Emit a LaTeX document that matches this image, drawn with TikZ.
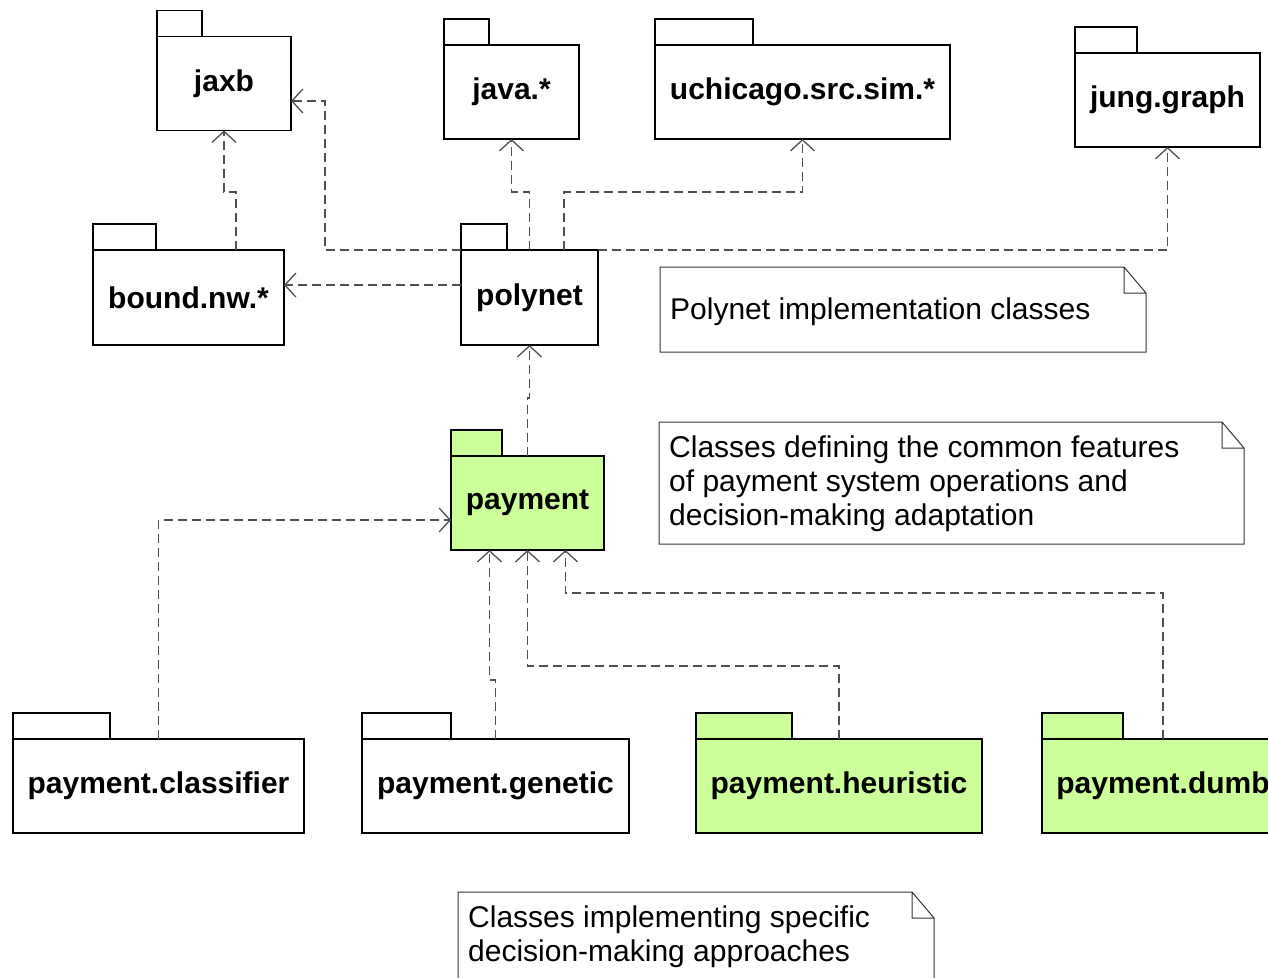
\documentclass[tikz,border=0pt]{standalone}
\usepackage{fontspec}
\setmainfont{Liberation Sans}
\usepackage{xcolor}
\usepackage{tikz}
\usetikzlibrary{arrows.meta,positioning,calc}
\definecolor{pkggreen}{RGB}{204,255,153}
\definecolor{depgray}{RGB}{80,80,80}

\begin{document}
\begin{tikzpicture}[x=1pt,y=-1pt]
      \tikzstyle{pkg}=[draw=black, line width=1.8pt, fill=white, inner sep=0pt, outer sep=0pt, minimum height=94pt, font=\fontsize{30}{34}\selectfont\bfseries]
      \tikzstyle{pkg_green}=[pkg, fill=pkggreen]
      \tikzstyle{tab}=[draw=black, line width=1.8pt, fill=white, inner sep=0pt, outer sep=0pt, minimum height=26pt, anchor=south west]
      \tikzstyle{tab_green}=[tab, fill=pkggreen]
      \tikzstyle{dep}=[draw=depgray, line width=1.3pt, dash pattern=on 9pt off 5pt, -{Straight Barb[length=11pt,width=24pt,line width=1.3pt]}]
      \tikzstyle{note}=[draw=none, inner sep=0pt, outer sep=0pt]
      \tikzstyle{note_text}=[inner sep=0pt, align=left, anchor=north west, font=\fontsize{30}{34}\selectfont]
      \tikzstyle{note_line}=[draw=black!80, line width=1pt]

      \useasboundingbox (0,0) rectangle (1268,977);

      \node [pkg, minimum width=134pt] (jaxb) at (224,83.5) {jaxb};
      \node [tab, minimum width=45pt] (jaxb-tab) at (jaxb.north west) {};

      \node [pkg, minimum width=135pt] (java) at (511.5,92) {java.*};
      \node [tab, minimum width=45pt] (java-tab) at (java.north west) {};

      \node [pkg, minimum width=295pt] (uchicago) at (802.5,92) {uchicago.src.sim.*};
      \node [tab, minimum width=98pt] (uchicago-tab) at (uchicago.north west) {};

      \node [pkg, minimum width=185pt] (jung) at (1167.5,100) {jung.graph};
      \node [tab, minimum width=62pt] (jung-tab) at (jung.north west) {};

      \node [pkg, minimum width=191pt, minimum height=95pt] (bound) at (188.5,297.5) {bound.nw.*};
      \node [tab, minimum width=63pt] (bound-tab) at (bound.north west) {};

      \node [pkg, minimum width=137pt, minimum height=95pt] (polynet) at (529.5,297.5) {polynet};
      \node [tab, minimum width=46pt] (polynet-tab) at (polynet.north west) {};

      \node [pkg_green, minimum width=153pt] (payment) at (527.5,503) {payment};
      \node [tab_green, minimum width=51pt] (payment-tab) at (payment.north west) {};

      \node [pkg, minimum width=291pt] (classifier) at (158.5,786) {payment.classifier};
      \node [tab, minimum width=97pt] (classifier-tab) at (classifier.north west) {};

      \node [pkg, minimum width=267pt] (genetic) at (495.5,786) {payment.genetic};
      \node [tab, minimum width=89pt] (genetic-tab) at (genetic.north west) {};

      \node [pkg_green, minimum width=286pt] (heuristic) at (839,786) {payment.heuristic};
      \node [tab_green, minimum width=96pt] (heuristic-tab) at (heuristic.north west) {};

      \node [pkg_green, minimum width=242pt] (dumb) at (1163,786) {payment.dumb};
      \node [tab_green, minimum width=81pt] (dumb-tab) at (dumb.north west) {};

      \node [note, minimum width=486pt, minimum height=85pt] (note1) at (903,309.5) {};
      \node [note, minimum width=585pt, minimum height=122pt] (note2) at (951.5,483) {};
      \node [note, minimum width=476pt, minimum height=100pt] (note3) at (696,942) {};
      \foreach \n in {note1,note2,note3}
        \draw [note_line] (\n.north west) -- ([xshift=-22pt]\n.north east) -- ([yshift=-26pt]\n.north east)
          -- (\n.south east) -- (\n.south west) -- cycle
          ([xshift=-22pt]\n.north east) |- ([yshift=-26pt]\n.north east);

      \node [note_text] (note1-text) at ([shift={(10pt,-31pt)}]note1.north west) {Polynet implementation classes};
      \node [note_text] (note2-text) at ([shift={(10pt,-14pt)}]note2.north west) {Classes defining the common features\\of payment system operations and\\decision-making adaptation};
      \node [note_text] (note3-text) at ([shift={(10pt,-14pt)}]note3.north west) {Classes implementing specific\\decision-making approaches};

      \draw [dep] (polynet.north west) -| ($(jaxb.east)+(34,17.5)$) -- ([yshift=-17.5pt]jaxb.east);
      \draw [dep] (polynet.north) -- ++(0,-58) -| (java.south);
      \draw [dep] ([xshift=34.5pt]polynet.north) -- ++(0,-58) -| (uchicago.south);
      \draw [dep] (polynet.north east) -| (jung.south);
      \draw [dep] ([yshift=12.5pt]polynet.west) -- ([yshift=12.5pt]bound.east);
      \draw [dep] ([xshift=47.5pt]bound.north) -- ++(0,-58) -| (jaxb.south);
      \draw [dep] (payment.north) -- ++(0,-58) -| (polynet.south);
      \draw [dep] (classifier.north) |- ([yshift=-17pt]payment.west);
      \draw [dep] (genetic.north) -- ++(0,-59) -| ([xshift=-38pt]payment.south);
      \draw [dep] (heuristic.north) -- ++(0,-73) -| (payment.south);
      \draw [dep] (dumb.north) -- ++(0,-146) -| ([xshift=38pt]payment.south);
\end{tikzpicture}
\end{document}
